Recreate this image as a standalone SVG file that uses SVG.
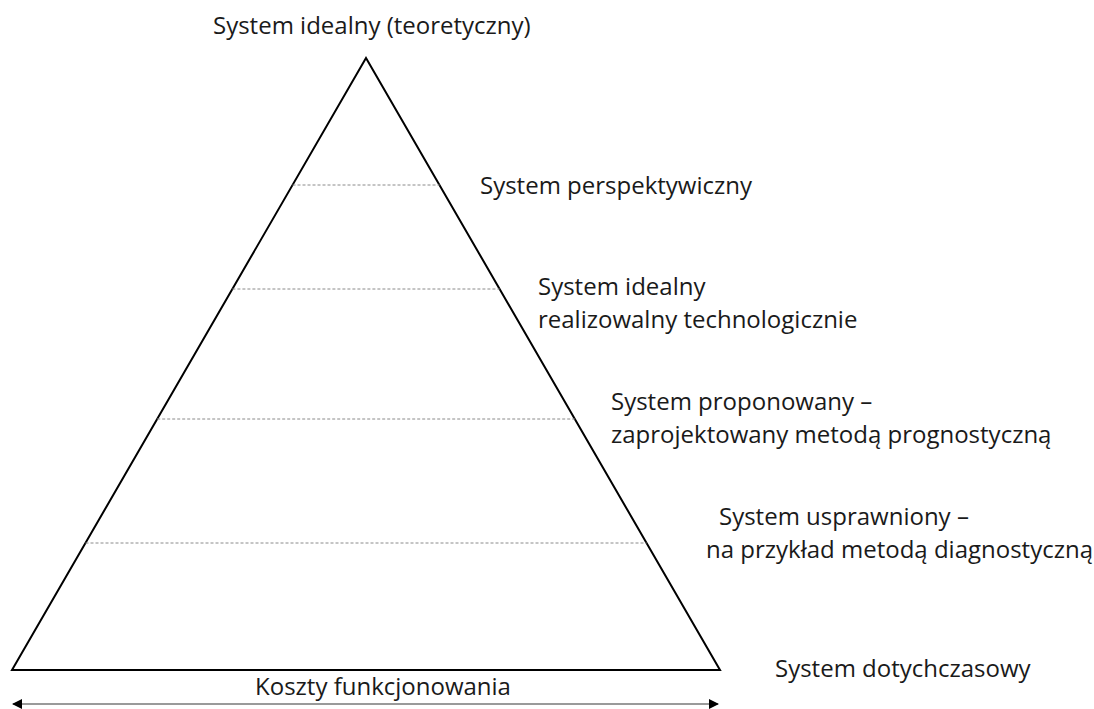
<svg xmlns="http://www.w3.org/2000/svg" width="1094" height="709" viewBox="0 0 1094 709">
  <style>
    .lbl { font-family: "Open Sans", "Liberation Sans", sans-serif; font-size: 24px; fill: #1a1a1a; }
    .tri { fill: none; stroke: #000; stroke-width: 2; stroke-linejoin: miter; }
    .lvl { stroke: #8a8a8a; stroke-width: 1; stroke-dasharray: 3 2; }
    .axis { stroke: #9a9a9a; stroke-width: 2; }
  </style>
  <defs>
    <marker id="arrow" viewBox="0 0 10 10" refX="9" refY="5" markerWidth="5" markerHeight="5" orient="auto-start-reverse" markerUnits="strokeWidth">
      <path d="M0,0 L10,5 L0,10 z" fill="#000"/>
    </marker>
  </defs>
  <rect width="1094" height="709" fill="#fff"/>

  <!-- pyramid outline -->
  <g id="pyramid">
    <polygon class="tri" points="366,58 12,670 720,670"/>
  </g>

  <!-- level separators and cost axis -->
  <g id="connectors">
    <line class="lvl" x1="292.5" y1="185" x2="439.5" y2="185"/>
    <line class="lvl" x1="232.4" y1="289" x2="499.6" y2="289"/>
    <line class="lvl" x1="157.2" y1="419" x2="574.8" y2="419"/>
    <line class="lvl" x1="85.5" y1="543" x2="646.5" y2="543"/>
    <line class="axis" x1="13" y1="704" x2="718" y2="704" marker-start="url(#arrow)" marker-end="url(#arrow)"/>
  </g>

  <g id="level-ideal">
    <text class="lbl" x="213" y="34">System idealny (teoretyczny)</text>
  </g>
  <g id="level-perspective">
    <text class="lbl" x="480" y="194">System perspektywiczny</text>
  </g>
  <g id="level-feasible">
    <text class="lbl" x="538" y="295">System idealny</text>
    <text class="lbl" x="538" y="328">realizowalny technologicznie</text>
  </g>
  <g id="level-proposed">
    <text class="lbl" x="611" y="410">System proponowany –</text>
    <text class="lbl" x="611" y="443">zaprojektowany metodą prognostyczną</text>
  </g>
  <g id="level-improved">
    <text class="lbl" x="719" y="525">System usprawniony –</text>
    <text class="lbl" x="706" y="558">na przykład metodą diagnostyczną</text>
  </g>
  <g id="level-current">
    <text class="lbl" x="775" y="677">System dotychczasowy</text>
  </g>
  <g id="cost-label">
    <text class="lbl" x="255" y="695">Koszty funkcjonowania</text>
  </g>
</svg>
